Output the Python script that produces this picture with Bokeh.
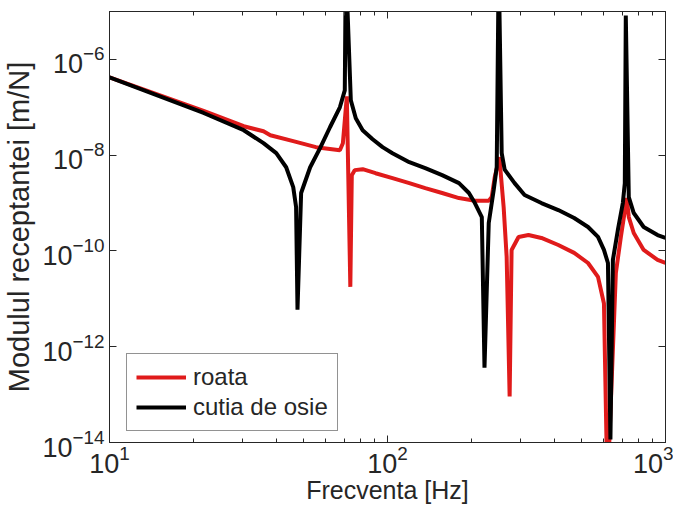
from bokeh.plotting import figure
from bokeh.models import LogAxis, FixedTicker, Legend, LegendItem, Range1d
from bokeh.embed import file_html
from bokeh.resources import INLINE

# ---- data ----
freq_roata = [10.0, 21.8, 30.4, 35.8, 37.9, 45.8, 55.3, 67.4, 69.1, 71.4, 73.5, 74.4,
              76.2, 81.4, 90.6, 104.2, 119.8, 136.7, 157.2, 180.8, 206.2, 231.3,
              237.1, 243.1, 252.6, 261.7, 268.3, 275.0, 279.5, 296.1, 321.5, 357.8,
              411.5, 469.3, 526.5, 571.7, 600.6, 618.1, 662.9, 690.9, 725.5, 737.8,
              768.7, 834.6, 936.4, 1000.0]
rec_roata = [4.22e-7, 8.4e-8, 4.02e-8, 3.16e-8, 2.61e-8, 1.96e-8, 1.47e-8, 1.27e-8,
             1.78e-8, 1.69e-7, 1.78e-11, 3.83e-9, 4.87e-9, 5.1e-9, 4.2e-9, 3.32e-9,
             2.61e-9, 2.05e-9, 1.62e-9, 1.27e-9, 1.12e-9, 1.12e-9, 1.33e-9, 3.48e-9,
             9.1e-9, 8.25e-10, 7.5e-11, 9.1e-14, 1.05e-10, 1.96e-10, 2.15e-10,
             1.87e-10, 1.33e-10, 9.1e-11, 5.6e-11, 2.87e-11, 8e-12, 1e-15, 3.48e-11,
             1.96e-10, 1.27e-9, 5.1e-10, 2.37e-10, 1.05e-10, 6.5e-11, 5.6e-11]

freq_cutia = [10.0, 21.8, 30.4, 35.8, 39.8, 43.2, 45.8, 46.9, 47.45, 48.9, 52.7, 57.2,
              62.1, 67.4, 70.2, 70.8, 73.8, 76.9, 81.4, 88.4, 96.0, 104.2, 119.8,
              136.7, 157.2, 180.8, 196.3, 206.2, 218.4, 223.3, 231.3, 241.0, 247.1,
              251.2, 257.5, 263.9, 286.5, 311.2, 357.8, 411.5, 469.3, 526.5, 571.7,
              600.6, 620.8, 633.7, 646.8, 674.0, 702.3, 713.9, 719.7, 737.8, 768.7,
              834.6, 936.4, 1000.0]
rec_cutia = [4.22e-7, 7.6e-8, 3.32e-8, 1.78e-8, 1.10e-8, 5.6e-9, 2.15e-9, 8.25e-10,
             5.9e-12, 1.62e-9, 5.6e-9, 1.40e-8, 3.83e-8, 1.0e-7, 2.26e-7, 1e-4,
             1.40e-7, 5.9e-8, 3.32e-8, 2.15e-8, 1.47e-8, 1.10e-8, 7.15e-9, 5.36e-9,
             3.83e-9, 2.61e-9, 1.62e-9, 1.0e-9, 5.1e-10, 3.65e-13, 3.83e-10, 1.87e-9,
             5.6e-9, 1e-4, 1.10e-8, 5.0e-9, 2.61e-9, 1.47e-9, 1.0e-9, 7.15e-10,
             4.87e-10, 3.16e-10, 1.96e-10, 1.05e-10, 5.6e-11, 1.15e-14, 6.5e-11,
             2.74e-10, 1.0e-9, 2.61e-9, 8.25e-6, 1.33e-9, 6.19e-10, 3.16e-10,
             2.15e-10, 1.87e-10]

x_major = [10, 100, 1000]
x_minor = [20, 30, 40, 50, 60, 70, 80, 90, 200, 300, 400, 500, 600, 700, 800, 900]
y_major = [1e-14, 1e-12, 1e-10, 1e-8, 1e-6]

labels = ["roata", "cutia de osie"]
colors = ["#e01b1b", "#000000"]

FONT = "Liberation Sans"
TXT = "#262626"

p = figure(width=673, height=506, x_axis_type="log", y_axis_type="log",
           x_range=Range1d(10, 1000), y_range=Range1d(1e-14, 1e-5),
           output_backend="svg", toolbar_location=None,
           min_border_left=105, min_border_right=8, min_border_top=11,
           min_border_bottom=64)
p.xgrid.visible = False
p.ygrid.visible = False
p.outline_line_color = TXT
p.outline_line_width = 1

r_red = p.line(freq_roata, rec_roata, line_color=colors[0], line_width=4)
r_blk = p.line(freq_cutia, rec_cutia, line_color=colors[1], line_width=4)

xt = FixedTicker(ticks=x_major, minor_ticks=x_minor)
yt = FixedTicker(ticks=y_major, minor_ticks=[])

for ax in p.xaxis:
    ax.ticker = xt
for ax in p.yaxis:
    ax.ticker = yt

for ax in list(p.xaxis) + list(p.yaxis):
    ax.major_tick_in = 7
    ax.major_tick_out = 0
    ax.minor_tick_in = 4
    ax.minor_tick_out = 0
    ax.axis_line_color = TXT
    ax.major_tick_line_color = TXT
    ax.minor_tick_line_color = TXT
    ax.major_label_text_font = FONT
    ax.major_label_text_font_size = "27px"
    ax.major_label_text_color = TXT
    ax.axis_label_text_font = FONT
    ax.axis_label_text_font_style = "normal"
    ax.axis_label_text_color = TXT

p.xaxis.axis_label = "Frecventa [Hz]"
p.yaxis.axis_label = "Modulul receptantei [m/N]"
p.xaxis.axis_label_text_font_size = "25px"
p.yaxis.axis_label_text_font_size = "29px"
p.xaxis.major_label_standoff = 2
p.yaxis.major_label_standoff = 5
p.xaxis.axis_label_standoff = 0
p.yaxis.axis_label_standoff = 4

right = LogAxis(ticker=FixedTicker(ticks=y_major, minor_ticks=[]),
                major_label_text_font_size="1px", major_label_text_alpha=0.0,
                major_label_standoff=0,
                major_tick_in=7, major_tick_out=0, minor_tick_in=0, minor_tick_out=0,
                axis_line_color=TXT, major_tick_line_color=TXT)
top = LogAxis(ticker=FixedTicker(ticks=x_major, minor_ticks=x_minor),
              major_label_text_font_size="1px", major_label_text_alpha=0.0,
              major_label_standoff=0,
              major_tick_in=7, major_tick_out=0, minor_tick_in=4, minor_tick_out=0,
              axis_line_color=TXT, major_tick_line_color=TXT,
              minor_tick_line_color=TXT)
p.add_layout(right, "right")
p.add_layout(top, "above")

legend = Legend(items=[LegendItem(label=labels[0], renderers=[r_red]),
                       LegendItem(label=labels[1], renderers=[r_blk])],
                location=(17, 11), margin=0, padding=9, spacing=2,
                glyph_width=50, glyph_height=24, label_height=24, label_standoff=7,
                label_text_font=FONT, label_text_font_size="24px",
                label_text_color=TXT, border_line_color=TXT,
                border_line_width=1, background_fill_color="white",
                background_fill_alpha=1.0)
p.add_layout(legend)

open("out.html", "w").write(file_html(p, INLINE))
